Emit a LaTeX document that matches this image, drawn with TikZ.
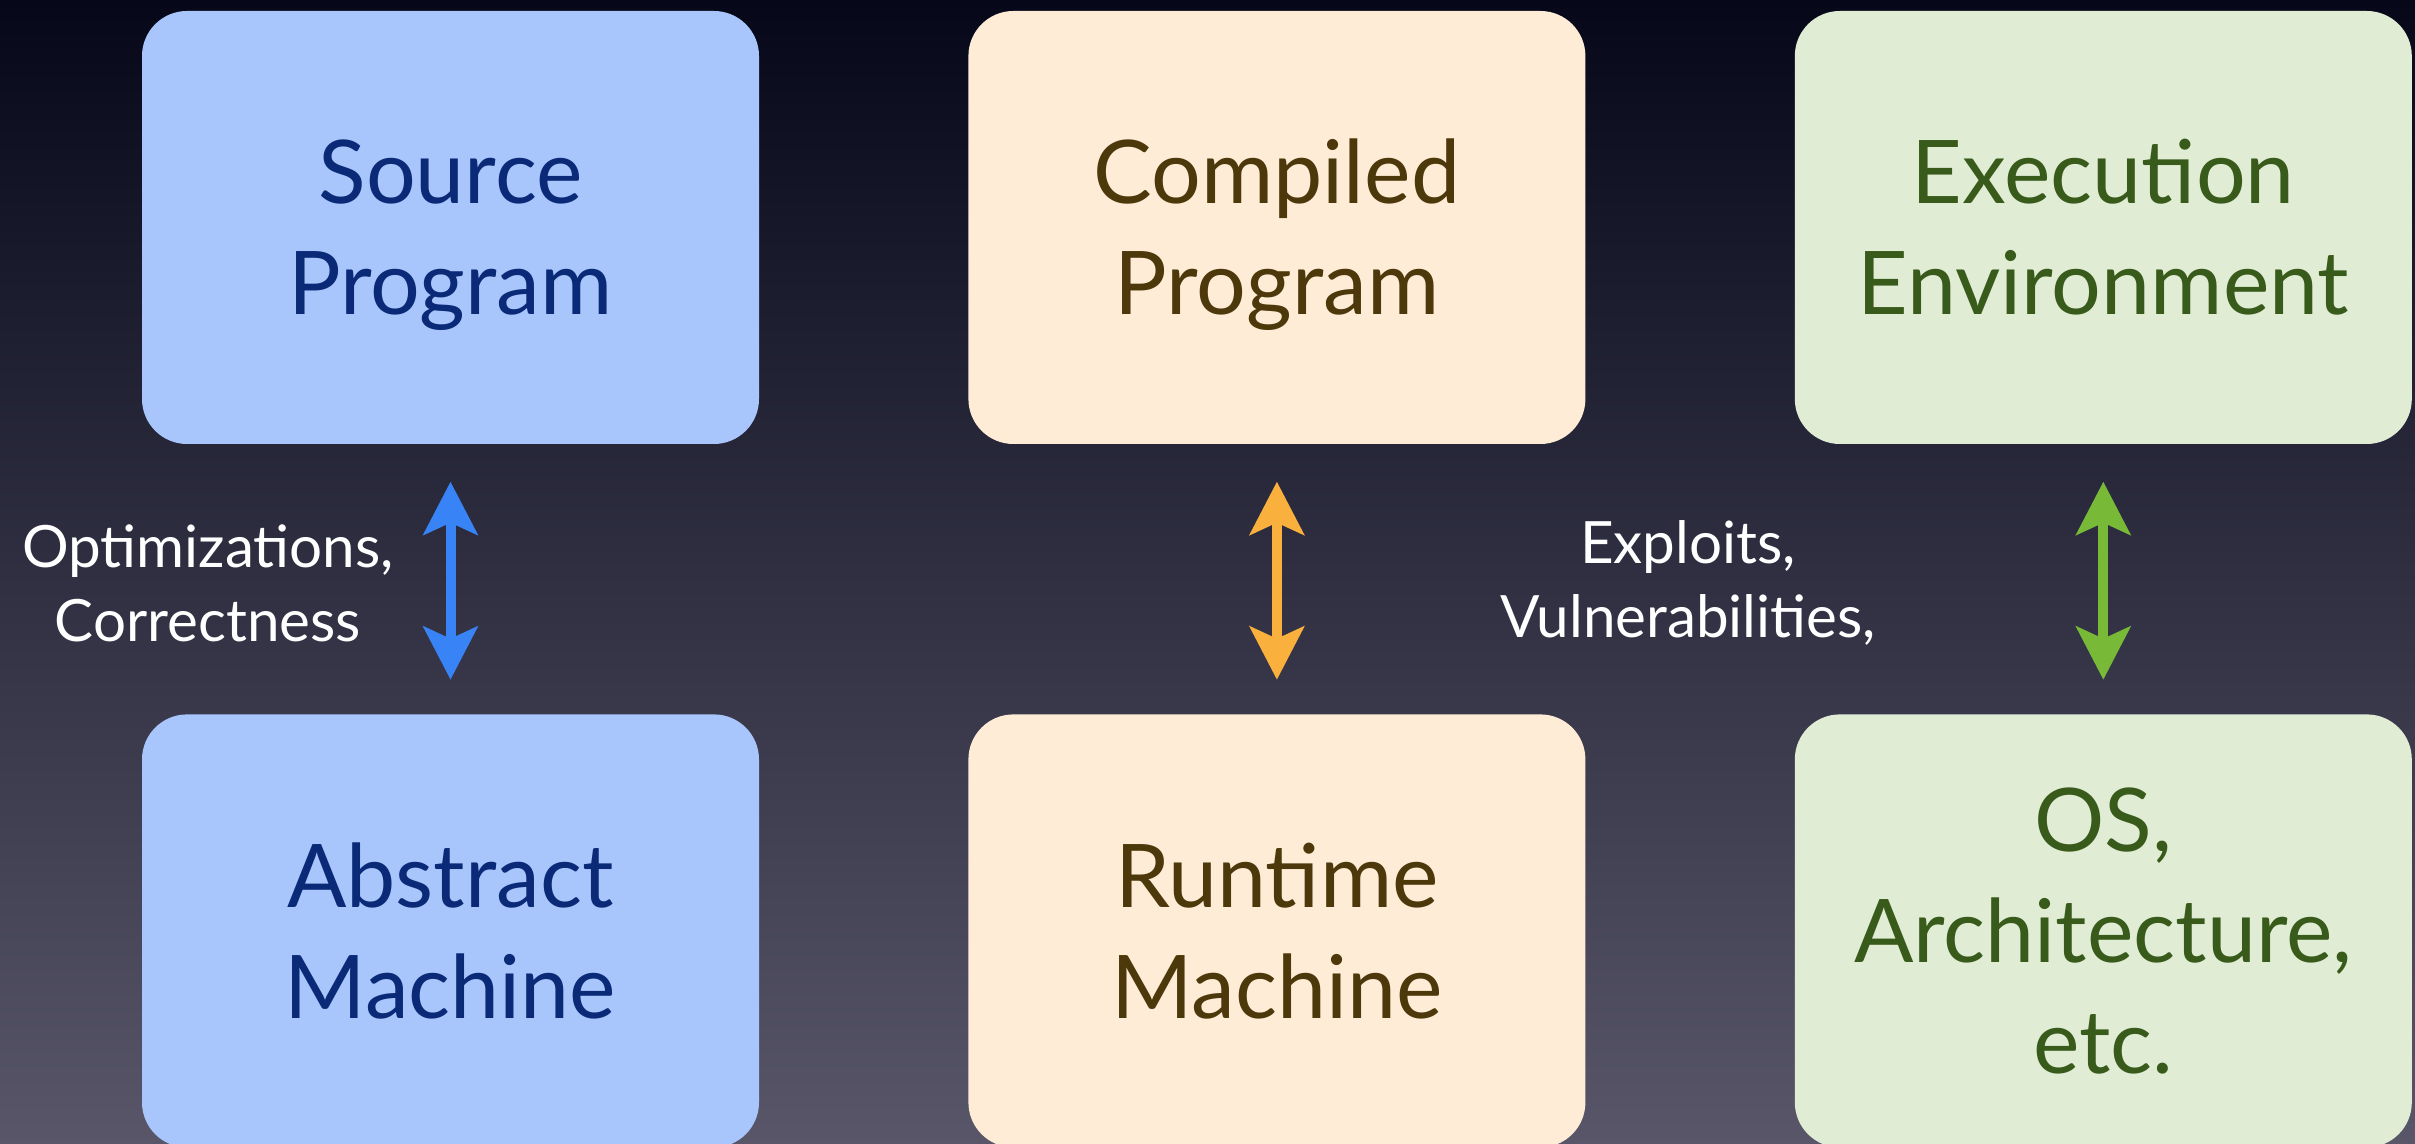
\documentclass[tikz,border=0pt]{standalone}
\usepackage{fontspec}
\setmainfont{Lato}
\usetikzlibrary{positioning, arrows.meta}

\definecolor{bgtop}{RGB}{6,8,26}
\definecolor{bgmid}{RGB}{36,38,66}
\definecolor{bgbot}{RGB}{88,86,104}
\definecolor{srcfill}{RGB}{168,197,252}
\definecolor{srctext}{RGB}{10,42,120}
\definecolor{cmpfill}{RGB}{254,236,214}
\definecolor{cmptext}{RGB}{76,56,10}
\definecolor{exefill}{RGB}{224,236,212}
\definecolor{exetext}{RGB}{56,90,26}
\definecolor{bluearr}{RGB}{56,132,246}
\definecolor{orangearr}{RGB}{250,176,60}
\definecolor{greenarr}{RGB}{120,186,56}

\begin{document}
\begin{tikzpicture}[node distance=2.08cm, every node/.style={align=center},
    box/.style={rectangle, rounded corners=0.45cm, minimum width=6.17cm, minimum height=4.33cm,
        inner sep=0pt, font=\fontsize{25}{31.6}\selectfont},
    upper/.style={text height=1.95cm, text depth=0.2cm},
    srcbox/.style={box, fill=srcfill, text=srctext},
    cmpbox/.style={box, fill=cmpfill, text=cmptext},
    exebox/.style={box, fill=exefill, text=exetext},
    link/.style={line width=0.1cm, shorten <=0.37cm, shorten >=0.34cm,
        {Stealth[length=0.53cm, width=0.54cm, inset=0.12cm]}-{Stealth[length=0.53cm, width=0.54cm, inset=0.12cm]}},
    note/.style={text=white, font=\fontsize{16.6}{21}\selectfont}]

        % Background
        \shade[top color=bgtop, middle color=bgmid, bottom color=bgbot] (0,0) rectangle (24.15,-11.44);
        \useasboundingbox (0,0) rectangle (24.15,-11.44);

        % Top row
        \node (src) [srcbox, upper] at (4.505,-2.275) {Source\\Program};
        \node (cmp) [cmpbox, upper, right=of src] {Compiled\\Program};
        \node (exe) [exebox, upper, right=of cmp] {Execution\\Environment};

        % Bottom row
        \node (abs) [srcbox, below=2.69cm of src] {Abstract\\Machine};
        \node (rt) [cmpbox, below=2.69cm of cmp] {Runtime\\Machine};
        \node (os) [exebox, below=2.69cm of exe] {OS,\\Architecture,\\etc.};

        % Arrows between rows
        \draw[link, bluearr] (src) -- (abs);
        \draw[link, orangearr] (cmp) -- (rt);
        \draw[link, greenarr] (exe) -- (os);

        % Labels
        \node (opt) [note] at (2.08,-5.83) {Optimizations,\\Correctness};
        \node (expl) [note] at (16.88,-5.83) {Exploits,\\Vulnerabilities,};
\end{tikzpicture}
\end{document}
